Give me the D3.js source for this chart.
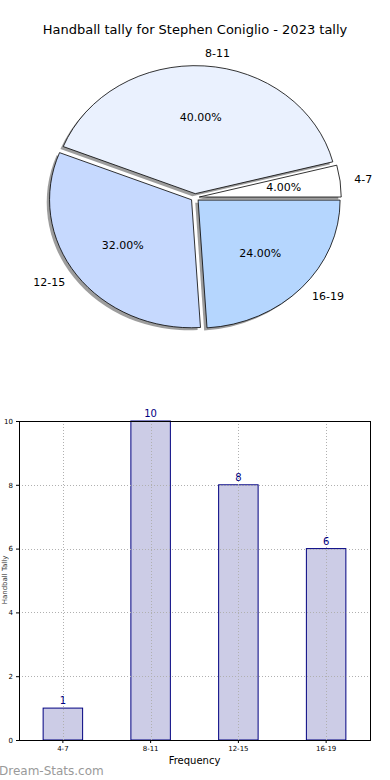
<!DOCTYPE html>
<html><head><meta charset="utf-8">
<script src="https://cdn.jsdelivr.net/npm/d3@7"></script>
<style>body{margin:0;background:#fff}svg{display:block;font-family:"DejaVu Sans",sans-serif}</style>
</head><body><svg id="c" width="390" height="780"></svg>
<script>
const categories = ["4-7", "8-11", "12-15", "16-19"];
const values = [1, 10, 8, 6];
const sliceColors = ["#ffffff", "#eaf1fe", "#c6d9fe", "#b5d6fe"];
const yTicks = [0, 2, 4, 6, 8, 10];
const title = "Handball tally for Stephen Coniglio - 2023 tally";

const svg = d3.select("#c");
svg.append("text").attr("x", 195).attr("y", 34).attr("text-anchor", "middle")
  .attr("font-size", 13).attr("fill", "#000").text(title);

// ---- Pie (matplotlib style: start at east, counter-clockwise, elliptical) ----
const cx = 195, cy = 197.5, rx = 142, ry = 128, R = 100, explode = 0.03;
const total = d3.sum(values);
const pieData = d3.pie().sort(null).value(d => d)(values);
const arc = d3.arc().innerRadius(0).outerRadius(R);
let cum = 0;
const slices = pieData.map((p, i) => {
  const t1 = cum / total * 2 * Math.PI;
  cum += values[i];
  const t2 = cum / total * 2 * Math.PI;
  const tm = (t1 + t2) / 2;
  return { i, t1, t2, tm, frac: values[i] / total,
    d: arc({ startAngle: Math.PI / 2 - t2, endAngle: Math.PI / 2 - t1 }),
    ox: explode * rx * Math.cos(tm), oy: -explode * ry * Math.sin(tm) };
});
const pieG = svg.append("g");
slices.forEach(s => {
  pieG.append("path").attr("d", s.d)
    .attr("transform", `translate(${cx + s.ox - 0.02 * rx},${cy + s.oy + 0.02 * ry}) scale(${rx / R},${ry / R})`)
    .attr("fill", "#8c8c8c").attr("fill-opacity", 0.85);
});
slices.forEach(s => {
  pieG.append("path").attr("d", s.d)
    .attr("transform", `translate(${cx + s.ox},${cy + s.oy}) scale(${rx / R},${ry / R})`)
    .attr("fill", sliceColors[s.i]).attr("stroke", "#000").attr("stroke-width", 0.8)
    .attr("vector-effect", "non-scaling-stroke").attr("stroke-linejoin", "miter");
});
slices.forEach(s => {
  const lx = cx + s.ox + 1.1 * rx * Math.cos(s.tm);
  const ly = cy + s.oy - 1.1 * ry * Math.sin(s.tm);
  pieG.append("text").attr("x", lx).attr("y", ly).attr("dy", "0.35em")
    .attr("text-anchor", Math.cos(s.tm) >= 0 ? "start" : "end")
    .attr("font-size", 11).text(categories[s.i]);
  const px = cx + s.ox + 0.6 * rx * Math.cos(s.tm);
  const py = cy + s.oy - 0.6 * ry * Math.sin(s.tm);
  pieG.append("text").attr("x", px).attr("y", py).attr("dy", "0.35em")
    .attr("text-anchor", "middle").attr("font-size", 11)
    .text(d3.format(".2f")(s.frac * 100) + "%");
});

// ---- Bar chart ----
const L = 19, Rr = 370, T = 421, B = 740;
const x = d3.scaleBand().domain(categories).range([L, Rr]).paddingInner(0.55).paddingOuter(0.275);
const y = d3.scaleLinear().domain([0, 10]).range([B, T]);
const g = svg.append("g");
g.selectAll("rect.bar").data(values).join("rect").attr("class", "bar")
  .attr("x", (d, i) => x(categories[i])).attr("width", x.bandwidth())
  .attr("y", d => y(d)).attr("height", d => B - y(d))
  .attr("fill", "#ccccE6").attr("stroke", "#000080").attr("stroke-width", 1);
const grid = g.append("g").attr("stroke", "#b0b0b0").attr("stroke-dasharray", "1,2").attr("stroke-width", 1);
yTicks.forEach(t => grid.append("line").attr("x1", L).attr("x2", Rr).attr("y1", Math.round(y(t)) + 0.5).attr("y2", Math.round(y(t)) + 0.5));
categories.forEach(c => {
  const xc = Math.round(x(c) + x.bandwidth() / 2) + 0.5;
  grid.append("line").attr("x1", xc).attr("x2", xc).attr("y1", T).attr("y2", B);
});
g.selectAll("text.val").data(values).join("text").attr("class", "val")
  .attr("x", (d, i) => x(categories[i]) + x.bandwidth() / 2).attr("y", d => y(d) - 4)
  .attr("text-anchor", "middle").attr("font-size", 10).attr("fill", "#000080").text(d => d);
const yAxis = d3.axisLeft(y).tickValues(yTicks).tickSize(3).tickPadding(3);
const ya = g.append("g").attr("transform", `translate(${L},0)`).call(yAxis);
ya.select(".domain").remove();
ya.selectAll("text").attr("font-size", 7).attr("font-family", "DejaVu Sans");
const xAxis = d3.axisBottom(x).tickSize(3).tickPadding(3);
const xa = g.append("g").attr("transform", `translate(0,${B})`).call(xAxis);
xa.select(".domain").remove();
xa.selectAll("text").attr("font-size", 7).attr("font-family", "DejaVu Sans");
g.append("rect").attr("x", L + 0.5).attr("y", T + 0.5).attr("width", Rr - L).attr("height", B - T)
  .attr("fill", "none").attr("stroke", "#000").attr("stroke-width", 1);
svg.append("text").attr("x", 194.5).attr("y", 764).attr("text-anchor", "middle").attr("font-size", 10).text("Frequency");
svg.append("text").attr("transform", "translate(7,580) rotate(-90)").attr("text-anchor", "middle")
  .attr("font-size", 7).attr("fill", "#333").text("Handball Tally");
svg.append("text").attr("x", -1).attr("y", 775).attr("font-size", 12)
  .attr("fill", "#9a9a9a").attr("font-family", "'DejaVu Sans',sans-serif").text("Dream-Stats.com");
</script></body></html>
